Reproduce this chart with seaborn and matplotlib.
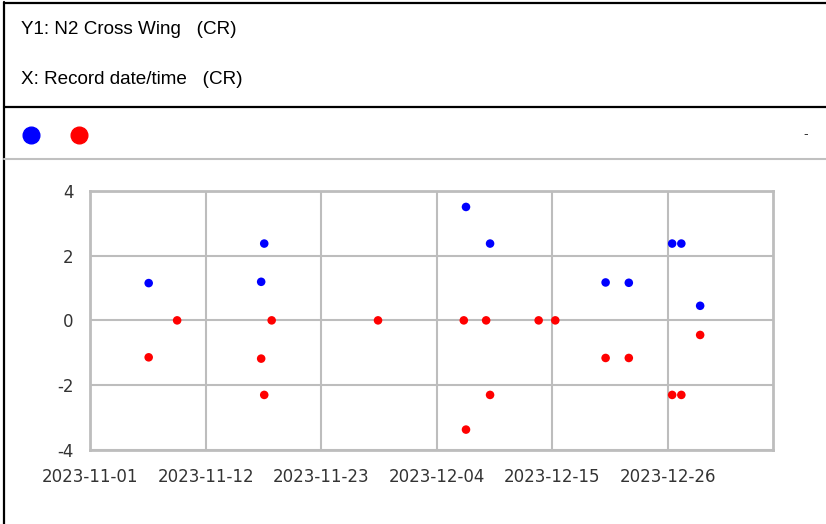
import matplotlib
matplotlib.use('Agg')
import matplotlib.pyplot as plt
import matplotlib.dates as mdates
from matplotlib.lines import Line2D
import pandas as pd
import seaborn as sns

# blue series (upper)
blue_times = ['2023-11-06 14:00', '2023-11-17 07:00', '2023-11-17 14:00',
              '2023-12-06 19:00', '2023-12-09 02:00', '2023-12-20 02:00',
              '2023-12-22 07:00', '2023-12-26 10:00', '2023-12-27 07:00',
              '2023-12-29 02:00']
blue_vals = [1.15, 1.19, 2.37, 3.50, 2.37, 1.17, 1.16, 2.37, 2.37, 0.45]

# red series (lower)
red_times = ['2023-11-06 14:00', '2023-11-09 07:00', '2023-11-17 07:00',
             '2023-11-17 14:00', '2023-11-18 07:00', '2023-11-28 10:00',
             '2023-12-06 14:00', '2023-12-06 19:00', '2023-12-08 17:00',
             '2023-12-09 02:00', '2023-12-13 17:00', '2023-12-15 07:00',
             '2023-12-20 02:00', '2023-12-22 07:00', '2023-12-26 10:00',
             '2023-12-27 07:00', '2023-12-29 02:00']
red_vals = [-1.14, 0, -1.18, -2.30, 0, 0, 0, -3.37, 0, -2.30, 0, 0,
            -1.16, -1.16, -2.30, -2.30, -0.45]

x_ticks = ['2023-11-01', '2023-11-12', '2023-11-23', '2023-12-04',
           '2023-12-15', '2023-12-26']
x_range = ['2023-11-01', '2024-01-05']
y_ticks = [-4, -2, 0, 2, 4]

df = pd.DataFrame({
    'time': pd.to_datetime(blue_times + red_times),
    'value': blue_vals + red_vals,
    'series': ['blue'] * len(blue_vals) + ['red'] * len(red_vals),
})

sns.set_style('white')
plt.rcParams['font.family'] = ['Liberation Sans', 'DejaVu Sans']
plt.rcParams['axes.unicode_minus'] = False

fig = plt.figure(figsize=(8.26, 5.24), dpi=100)
ax = fig.add_axes([0.109, 0.1412, 0.8266, 0.4948])

sns.scatterplot(data=df, x='time', y='value', hue='series',
                palette={'blue': '#0000ff', 'red': '#ff0000'},
                s=38, linewidth=0, legend=False, ax=ax, zorder=3)

ax.set_xlim(pd.to_datetime(x_range[0]), pd.to_datetime(x_range[1]))
ax.set_ylim(-4, 4)
ax.set_xticks(pd.to_datetime(x_ticks))
ax.xaxis.set_major_formatter(mdates.DateFormatter('%Y-%m-%d'))
ax.set_yticks(y_ticks)
ax.set_xlabel('')
ax.set_ylabel('')
ax.grid(True, color='#bdbdbd', linewidth=1.5)
for sp in ax.spines.values():
    sp.set_color('#bdbdbd')
    sp.set_linewidth(2)
ax.tick_params(length=0, labelsize=12, colors='#333333')
ax.tick_params(axis='x', pad=13)
ax.tick_params(axis='y', pad=12)
for lab in ax.get_xticklabels() + ax.get_yticklabels():
    lab.set_family(['DejaVu Sans'])

# header panel
fig.text(21 / 826, 1 - 30 / 524, 'Y1: N2 Cross Wing   (CR)', fontsize=13.6,
         va='center', ha='left', color='black')
fig.text(21 / 826, 1 - 80 / 524, 'X: Record date/time   (CR)', fontsize=13.6,
         va='center', ha='left', color='black')
fig.text(806 / 826, 1 - 134 / 524, '-', fontsize=10, va='center',
         ha='center', color='#333333')

tf = fig.transFigure
fig.add_artist(Line2D([4 / 826, 4 / 826], [0, 1 - 2 / 524], color='black',
                      linewidth=1.6, transform=tf))
fig.add_artist(Line2D([4 / 826, 1], [1 - 2.5 / 524, 1 - 2.5 / 524],
                      color='black', linewidth=1.6, transform=tf))
fig.add_artist(Line2D([4 / 826, 1], [1 - 107 / 524, 1 - 107 / 524],
                      color='black', linewidth=1.6, transform=tf))
fig.add_artist(Line2D([4 / 826, 1], [1 - 159 / 524, 1 - 159 / 524],
                      color='#c0c0c0', linewidth=1.5, transform=tf))
fig.add_artist(Line2D([31 / 826], [1 - 135 / 524], marker='o', markersize=12,
                      color='#0000ff', linewidth=0, transform=tf))
fig.add_artist(Line2D([79 / 826], [1 - 135 / 524], marker='o', markersize=12,
                      color='#ff0000', linewidth=0, transform=tf))

fig.savefig('out.png', dpi=100)
